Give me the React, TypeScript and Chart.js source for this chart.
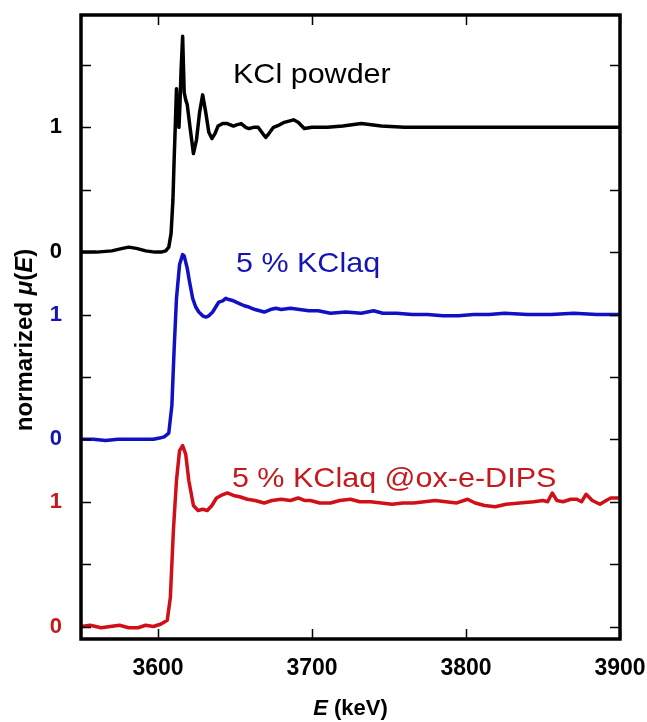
import React, { useEffect, useRef } from "react";
import { Chart, registerables } from "chart.js";

Chart.register(...registerables);

// ---------- data ----------
const X_MIN = 3550;
const X_MAX = 3900;
const X_TICKS = [3600, 3700, 3800, 3900];

// stacking offsets (in normalized units)
const OFFSET_KCL = 3;
const OFFSET_AQ = 1.5;
const OFFSET_DIPS = 0;

const Y_TICKS = [0, 0.5, 1, 1.5, 2, 2.5, 3, 3.5, 4, 4.5];
const Y_TICK_LABELS: Record<string, string> = { "0": "0", "1": "1", "1.5": "0", "2.5": "1", "3": "0", "4": "1" };

// KCl powder
const kclE = [3550, 3560, 3570, 3577, 3581, 3586, 3592, 3598, 3602, 3605, 3607, 3608.5, 3609.7, 3610.5, 3611.2, 3612, 3612.8, 3613.6, 3614.3, 3615, 3616, 3617, 3618, 3619, 3621, 3623, 3625, 3627, 3629, 3631, 3633, 3635, 3637, 3639, 3642, 3645, 3649, 3651, 3654, 3657, 3659, 3662, 3665, 3668, 3670, 3672, 3675, 3679, 3682, 3685, 3688, 3691, 3695, 3700, 3710, 3720, 3732, 3745, 3760, 3780, 3800, 3830, 3860, 3900];
const kclMu = [0.0, 0.0, 0.01, 0.03, 0.04, 0.03, 0.01, 0.0, 0.0, 0.01, 0.04, 0.15, 0.42, 0.75, 1.0, 1.31, 1.1, 1.0, 1.2, 1.46, 1.73, 1.28, 1.22, 1.18, 0.98, 0.79, 0.9, 1.12, 1.26, 1.12, 0.96, 0.91, 0.95, 1.01, 1.03, 1.03, 1.01, 1.02, 1.03, 1.0, 0.99, 1.0, 1.0, 0.95, 0.92, 0.95, 1.0, 1.02, 1.04, 1.05, 1.06, 1.04, 0.99, 1.0, 1.0, 1.01, 1.03, 1.01, 1.0, 1.0, 1.0, 1.0, 1.0, 1.0];

// 5 % KClaq
const aqE = [3550, 3558, 3566, 3574, 3582, 3590, 3597, 3601, 3604, 3607, 3609, 3610.5, 3612, 3614, 3616, 3617, 3619, 3620.5, 3622.5, 3624.5, 3626.5, 3629, 3631, 3633, 3635.5, 3637.5, 3639.5, 3642, 3644, 3646, 3649, 3652.5, 3656, 3659, 3663, 3666, 3669, 3673, 3676.5, 3680, 3686, 3692, 3698, 3704, 3712, 3722, 3732, 3740, 3746, 3755, 3765, 3775, 3785, 3795, 3805, 3815, 3825, 3840, 3855, 3870, 3885, 3900];
const aqMu = [0.0, 0.0, -0.01, 0.0, 0.0, 0.0, 0.0, 0.01, 0.02, 0.05, 0.27, 0.73, 1.13, 1.4, 1.48, 1.47, 1.37, 1.26, 1.13, 1.06, 1.02, 0.99, 0.98, 0.99, 1.02, 1.06, 1.1, 1.11, 1.13, 1.12, 1.11, 1.09, 1.07, 1.06, 1.04, 1.03, 1.02, 1.04, 1.05, 1.04, 1.05, 1.04, 1.03, 1.03, 1.01, 1.02, 1.01, 1.03, 1.01, 1.01, 1.0, 1.0, 0.99, 0.99, 1.0, 1.0, 1.01, 1.0, 1.0, 1.01, 1.0, 1.0];

// 5 % KClaq @ox-e-DIPS
const dipsE = [3550, 3556, 3563, 3569, 3575, 3581, 3587, 3592, 3597, 3602, 3606, 3608, 3610, 3612, 3614, 3616, 3618, 3620, 3623, 3626, 3629, 3632, 3635, 3638, 3641, 3645, 3649, 3653, 3658, 3663, 3669, 3674, 3680, 3686, 3691, 3695, 3699, 3705, 3712, 3718, 3725, 3731, 3738, 3745, 3752, 3759, 3766, 3773, 3780, 3787, 3794, 3801, 3806, 3812, 3819, 3826, 3835, 3844, 3850, 3853, 3856, 3859, 3863, 3868, 3872, 3875, 3878, 3882, 3887, 3891, 3894, 3900];
const dipsMu = [0.0, 0.01, -0.01, 0.0, 0.01, -0.01, -0.01, 0.01, 0.0, 0.02, 0.05, 0.23, 0.77, 1.17, 1.41, 1.45, 1.38, 1.17, 0.97, 0.93, 0.94, 0.93, 0.97, 1.03, 1.05, 1.07, 1.05, 1.04, 1.02, 1.01, 0.99, 1.01, 1.02, 1.01, 1.03, 1.01, 1.01, 0.99, 0.99, 1.01, 1.02, 1.0, 1.0, 0.99, 0.98, 0.99, 0.99, 1.0, 1.01, 1.0, 0.99, 1.02, 0.99, 0.97, 0.96, 0.98, 0.99, 1.0, 1.01, 1.0, 1.07, 1.01, 1.0, 1.02, 1.02, 1.0, 1.06, 1.01, 0.98, 1.01, 1.03, 1.03];

const BLACK = "#000000";
const BLUE = "#1010c4";
const RED = "#d01018";
const BLUE_TEXT = "#1414b4";
const RED_TEXT = "#c41a1e";

const FONT = "'Liberation Sans', Arial, Helvetica, sans-serif";

function series(E: number[], mu: number[], off: number) {
  return E.map((e, i) => ({ x: e, y: mu[i] + off }));
}

const overlayPlugin = {
  id: "overlay",
  afterDraw(chart: any) {
    const { ctx, chartArea: a, scales } = chart;
    const xs = scales.x;
    const ys = scales.y;
    ctx.save();
    // inner tick marks
    ctx.strokeStyle = "#000";
    ctx.lineWidth = 1.5;
    const TL = 10;
    ctx.beginPath();
    X_TICKS.forEach((v) => {
      const px = Math.round(xs.getPixelForValue(v)) + 0.5;
      ctx.moveTo(px, a.bottom);
      ctx.lineTo(px, a.bottom - TL);
      ctx.moveTo(px, a.top);
      ctx.lineTo(px, a.top + TL);
    });
    Y_TICKS.forEach((v) => {
      const py = Math.round(ys.getPixelForValue(v)) + 0.5;
      ctx.moveTo(a.left, py);
      ctx.lineTo(a.left + TL, py);
      ctx.moveTo(a.right, py);
      ctx.lineTo(a.right - TL, py);
    });
    ctx.stroke();
    // frame
    ctx.lineWidth = 3.5;
    ctx.strokeRect(a.left, a.top, a.right - a.left, a.bottom - a.top);

    // curve labels
    const label = (text: string, xv: number, yv: number, color: string) => {
      ctx.save();
      ctx.translate(xs.getPixelForValue(xv), ys.getPixelForValue(yv));
      ctx.scale(1.09, 1);
      ctx.font = `28px ${FONT}`;
      ctx.fillStyle = color;
      ctx.textAlign = "left";
      ctx.textBaseline = "alphabetic";
      ctx.fillText(text, 0, 0);
      ctx.restore();
    };
    label("KCl powder", 3648.7, 4.355, BLACK);
    label("5 % KClaq", 3650.6, 2.84, BLUE_TEXT);
    label("5 % KClaq @ox-e-DIPS", 3648, 1.118, RED_TEXT);

    // rich text helper
    const drawRich = (parts: { t: string; f: string }[], cx: number, cy: number, rot: number) => {
      ctx.save();
      ctx.translate(cx, cy);
      ctx.rotate(rot);
      ctx.fillStyle = "#000";
      ctx.textBaseline = "middle";
      ctx.textAlign = "left";
      let total = 0;
      parts.forEach((p) => {
        ctx.font = p.f;
        total += ctx.measureText(p.t).width;
      });
      let x = -total / 2;
      parts.forEach((p) => {
        ctx.font = p.f;
        ctx.fillText(p.t, x, 0);
        x += ctx.measureText(p.t).width;
      });
      ctx.restore();
    };
    const B = `bold 24px ${FONT}`;
    const BI = `italic bold 24px ${FONT}`;
    drawRich(
      [
        { t: "normarized ", f: B },
        { t: "\u03bc", f: BI },
        { t: "(", f: B },
        { t: "E", f: BI },
        { t: ")", f: B },
      ],
      25,
      340,
      -Math.PI / 2
    );
    const B2 = `bold 22px ${FONT}`;
    const BI2 = `italic bold 22px ${FONT}`;
    drawRich(
      [
        { t: "E", f: BI2 },
        { t: " (keV)", f: B2 },
      ],
      (a.left + a.right) / 2,
      709,
      0
    );
    ctx.restore();
  },
};

export default function App() {
  const ref = useRef<HTMLCanvasElement | null>(null);
  useEffect(() => {
    if (!ref.current) return;
    const chart = new Chart(ref.current, {
      type: "scatter",
      data: {
        datasets: [
          { label: "KCl powder", data: series(kclE, kclMu, OFFSET_KCL), borderColor: BLACK, borderWidth: 3.5 },
          { label: "5 % KClaq", data: series(aqE, aqMu, OFFSET_AQ), borderColor: BLUE, borderWidth: 3.5 },
          { label: "5 % KClaq @ox-e-DIPS", data: series(dipsE, dipsMu, OFFSET_DIPS), borderColor: RED, borderWidth: 3.5 },
        ].map((d) => ({
          ...d,
          showLine: true,
          pointRadius: 0,
          tension: 0,
          fill: false,
          borderJoinStyle: "round" as const,
          borderCapStyle: "round" as const,
        })),
      },
      options: {
        animation: false,
        responsive: true,
        maintainAspectRatio: false,
        layout: { padding: { top: 15, right: 27, left: 0, bottom: 0 } },
        plugins: { legend: { display: false }, tooltip: { enabled: false } },
        scales: {
          x: {
            type: "linear",
            min: X_MIN,
            max: X_MAX,
            grid: { display: false, drawTicks: false },
            border: { display: false },
            afterBuildTicks: (s: any) => {
              s.ticks = X_TICKS.map((v) => ({ value: v }));
            },
            afterFit: (s: any) => {
              s.height = 83;
              s.paddingLeft = 0;
              s.paddingRight = 0;
              s.paddingTop = 0;
              s.paddingBottom = 0;
            },
            ticks: {
              padding: 16,
              color: "#000",
              font: { family: FONT, size: 23, weight: "bold" },
              maxRotation: 0,
              callback: (v: any) => String(v),
            },
          },
          y: {
            type: "linear",
            min: -0.1,
            max: 4.9,
            grid: { display: false, drawTicks: false },
            border: { display: false },
            afterBuildTicks: (s: any) => {
              s.ticks = Y_TICKS.map((v) => ({ value: v }));
            },
            afterFit: (s: any) => {
              s.width = 81;
              s.paddingLeft = 0;
              s.paddingRight = 0;
              s.paddingTop = 0;
              s.paddingBottom = 0;
            },
            ticks: {
              padding: 19,
              font: { family: FONT, size: 22, weight: "bold" },
              color: (c: any) => {
                const v = c.tick ? c.tick.value : 0;
                return v < 1.25 ? RED_TEXT : v < 2.75 ? BLUE_TEXT : BLACK;
              },
              callback: (v: any) => Y_TICK_LABELS[String(v)] ?? "",
            },
          },
        },
      },
      plugins: [overlayPlugin],
    });
    return () => chart.destroy();
  }, []);
  return (
    <div style={{ position: "fixed", left: 0, top: 0, width: 647, height: 722, background: "#fff" }}>
      <canvas ref={ref} />
    </div>
  );
}
